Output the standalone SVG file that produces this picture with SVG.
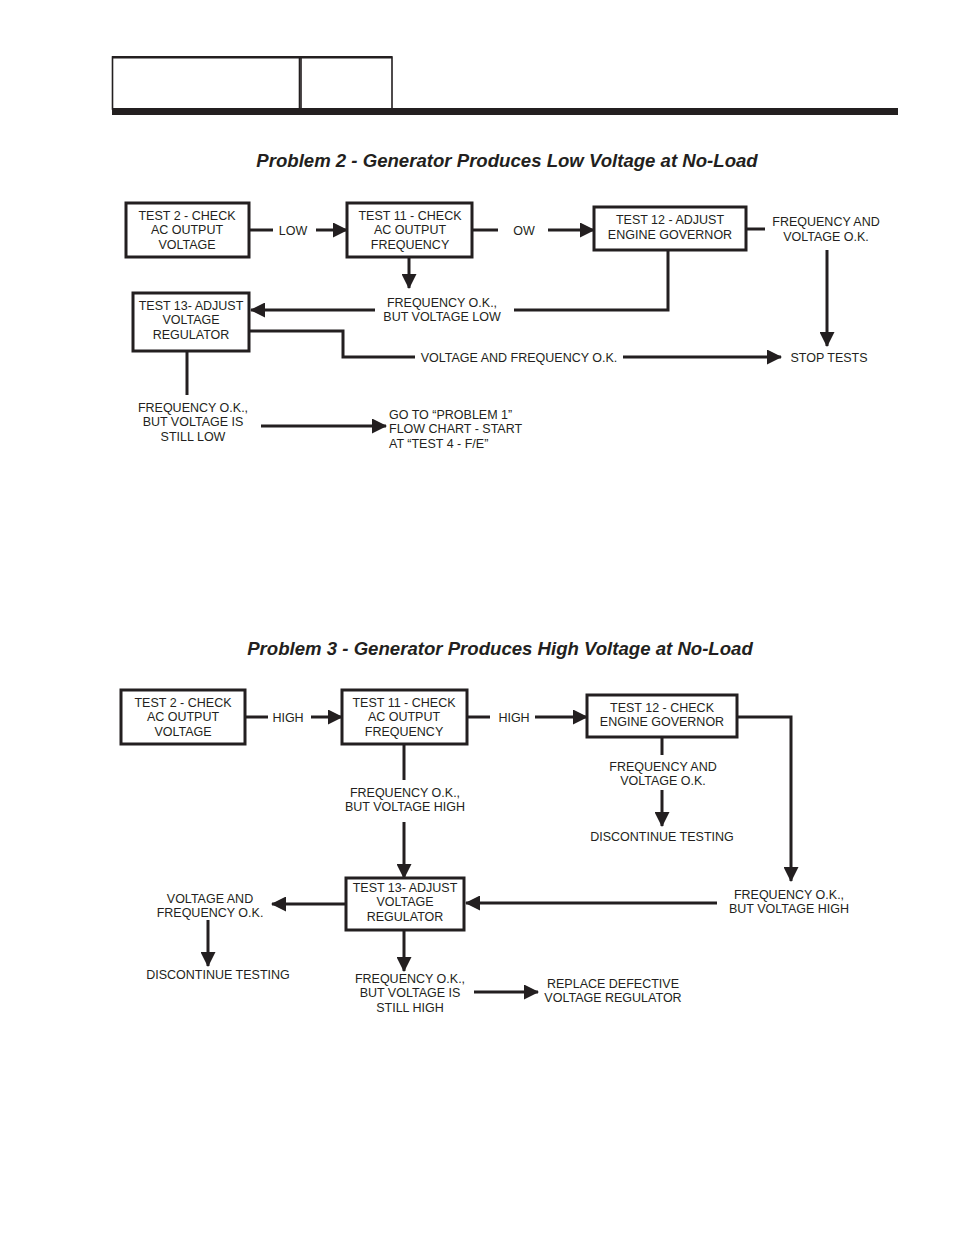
<svg xmlns="http://www.w3.org/2000/svg" width="954" height="1235" viewBox="0 0 954 1235">
<defs>
<style>
.t{font-family:"Liberation Sans",Arial,sans-serif;font-size:12.5px;fill:#231f20;text-anchor:middle}
.l{text-anchor:start}
.h{font-family:"Liberation Sans",Arial,sans-serif;font-size:18.6px;font-weight:bold;font-style:italic;fill:#231f20;text-anchor:middle}
.b{fill:#fff;stroke:#231f20;stroke-width:3}
.c{fill:none;stroke:#231f20;stroke-width:3}
.a{fill:none;stroke:#231f20;stroke-width:3;marker-end:url(#ar)}
</style>
<marker id="ar" markerUnits="userSpaceOnUse" markerWidth="15" markerHeight="15" refX="14" refY="7.5" orient="auto">
<path d="M0,0 L15,7.5 L0,15 z" fill="#231f20"/>
</marker>
</defs>
<rect width="954" height="1235" fill="#fff"/>
<g id="header">
<rect x="112.5" y="57" width="187" height="52" fill="none" stroke="#231f20" stroke-width="1.6"/>
<rect x="301" y="57" width="91" height="52" fill="none" stroke="#231f20" stroke-width="1.6"/>
<rect x="112" y="56" width="280" height="2.5" fill="#231f20"/>
<rect x="112" y="108" width="786" height="7" fill="#231f20"/>
</g>
<text class="h" x="507" y="167">Problem 2 - Generator Produces Low Voltage at No-Load</text>
<text class="h" x="500" y="655">Problem 3 - Generator Produces High Voltage at No-Load</text>

<g id="connectors">
<!-- Problem 2 -->
<line class="c" x1="249" y1="230" x2="273" y2="230"/>
<line class="a" x1="316" y1="230" x2="347" y2="230"/>
<line class="c" x1="472" y1="230" x2="498" y2="230"/>
<line class="a" x1="548" y1="230" x2="594" y2="230"/>
<line class="c" x1="746" y1="229" x2="765" y2="229"/>
<line class="a" x1="827" y1="250" x2="827" y2="346"/>
<line class="a" x1="409" y1="257" x2="409" y2="288"/>
<line class="a" x1="375" y1="310" x2="251" y2="310"/>
<polyline class="c" points="514,310 668,310 668,250"/>
<polyline class="c" points="249,331 343,331 343,357 415,357"/>
<line class="a" x1="623" y1="357" x2="781" y2="357"/>
<line class="c" x1="187" y1="351" x2="187" y2="395"/>
<line class="a" x1="261" y1="426" x2="386" y2="426"/>
<!-- Problem 3 -->
<line class="c" x1="245" y1="717" x2="268" y2="717"/>
<line class="a" x1="311" y1="717" x2="342" y2="717"/>
<line class="c" x1="467" y1="717" x2="490" y2="717"/>
<line class="a" x1="535" y1="717" x2="587" y2="717"/>
<line class="c" x1="662" y1="737" x2="662" y2="755"/>
<line class="a" x1="662" y1="790" x2="662" y2="826"/>
<polyline class="a" points="737,717 791,717 791,881"/>
<line class="a" x1="717" y1="903" x2="466" y2="903"/>
<line class="c" x1="404" y1="744" x2="404" y2="780"/>
<line class="a" x1="404" y1="822" x2="404" y2="878"/>
<line class="a" x1="346" y1="904" x2="272" y2="904"/>
<line class="a" x1="208" y1="920" x2="208" y2="966"/>
<line class="a" x1="404" y1="930" x2="404" y2="971"/>
<line class="a" x1="474" y1="992" x2="538" y2="992"/>
</g>

<!-- Problem 2 nodes -->
<g id="p2-test2">
<rect class="b" x="126" y="203" width="123" height="54"/>
<text class="t" x="187" y="219.5">TEST 2 - CHECK</text>
<text class="t" x="187" y="234">AC OUTPUT</text>
<text class="t" x="187" y="248.5">VOLTAGE</text>
</g>
<g id="p2-low"><text class="t" x="293" y="234.5">LOW</text></g>
<g id="p2-test11">
<rect class="b" x="347" y="203" width="125" height="54"/>
<text class="t" x="410" y="219.5">TEST 11 - CHECK</text>
<text class="t" x="410" y="234">AC OUTPUT</text>
<text class="t" x="410" y="248.5">FREQUENCY</text>
</g>
<g id="p2-ow"><text class="t" x="524" y="234.5">OW</text></g>
<g id="p2-test12">
<rect class="b" x="594" y="207" width="152" height="43"/>
<text class="t" x="670" y="224">TEST 12 - ADJUST</text>
<text class="t" x="670" y="238.5">ENGINE GOVERNOR</text>
</g>
<g id="p2-fvok">
<text class="t" x="826" y="226">FREQUENCY AND</text>
<text class="t" x="826" y="240.5">VOLTAGE O.K.</text>
</g>
<g id="p2-fvlow">
<text class="t" x="442" y="306.5">FREQUENCY O.K.,</text>
<text class="t" x="442" y="321">BUT VOLTAGE LOW</text>
</g>
<g id="p2-test13">
<rect class="b" x="133" y="293" width="116" height="58"/>
<text class="t" x="191" y="309.5">TEST 13- ADJUST</text>
<text class="t" x="191" y="324">VOLTAGE</text>
<text class="t" x="191" y="338.5">REGULATOR</text>
</g>
<g id="p2-vfok"><text class="t" x="519" y="361.5">VOLTAGE AND FREQUENCY O.K.</text></g>
<g id="p2-stop"><text class="t" x="829" y="361.5">STOP TESTS</text></g>
<g id="p2-stilllow">
<text class="t" x="193" y="411.5">FREQUENCY O.K.,</text>
<text class="t" x="193" y="426">BUT VOLTAGE IS</text>
<text class="t" x="193" y="440.5">STILL LOW</text>
</g>
<g id="p2-goto">
<text class="t l" x="389" y="418.5">GO TO “PROBLEM 1”</text>
<text class="t l" x="389" y="433">FLOW CHART - START</text>
<text class="t l" x="389" y="447.5">AT “TEST 4 - F/E”</text>
</g>

<!-- Problem 3 nodes -->
<g id="p3-test2">
<rect class="b" x="121" y="690" width="124" height="54"/>
<text class="t" x="183" y="706.5">TEST 2 - CHECK</text>
<text class="t" x="183" y="721">AC OUTPUT</text>
<text class="t" x="183" y="735.5">VOLTAGE</text>
</g>
<g id="p3-high1"><text class="t" x="288" y="721.5">HIGH</text></g>
<g id="p3-test11">
<rect class="b" x="342" y="690" width="125" height="54"/>
<text class="t" x="404" y="706.5">TEST 11 - CHECK</text>
<text class="t" x="404" y="721">AC OUTPUT</text>
<text class="t" x="404" y="735.5">FREQUENCY</text>
</g>
<g id="p3-high2"><text class="t" x="514" y="721.5">HIGH</text></g>
<g id="p3-test12">
<rect class="b" x="587" y="695" width="150" height="42"/>
<text class="t" x="662" y="711.5">TEST 12 - CHECK</text>
<text class="t" x="662" y="726">ENGINE GOVERNOR</text>
</g>
<g id="p3-fvok">
<text class="t" x="663" y="770.5">FREQUENCY AND</text>
<text class="t" x="663" y="785">VOLTAGE O.K.</text>
</g>
<g id="p3-disc1"><text class="t" x="662" y="840.5">DISCONTINUE TESTING</text></g>
<g id="p3-fvhigh1">
<text class="t" x="405" y="796.5">FREQUENCY O.K.,</text>
<text class="t" x="405" y="811">BUT VOLTAGE HIGH</text>
</g>
<g id="p3-fvhigh2">
<text class="t" x="789" y="898.5">FREQUENCY O.K.,</text>
<text class="t" x="789" y="913">BUT VOLTAGE HIGH</text>
</g>
<g id="p3-test13">
<rect class="b" x="346" y="878" width="118" height="52"/>
<text class="t" x="405" y="891.5">TEST 13- ADJUST</text>
<text class="t" x="405" y="906">VOLTAGE</text>
<text class="t" x="405" y="920.5">REGULATOR</text>
</g>
<g id="p3-vfok">
<text class="t" x="210" y="902.5">VOLTAGE AND</text>
<text class="t" x="210" y="917">FREQUENCY O.K.</text>
</g>
<g id="p3-disc2"><text class="t" x="218" y="978.5">DISCONTINUE TESTING</text></g>
<g id="p3-stillhigh">
<text class="t" x="410" y="982.5">FREQUENCY O.K.,</text>
<text class="t" x="410" y="997">BUT VOLTAGE IS</text>
<text class="t" x="410" y="1011.5">STILL HIGH</text>
</g>
<g id="p3-replace">
<text class="t" x="613" y="987.5">REPLACE DEFECTIVE</text>
<text class="t" x="613" y="1002">VOLTAGE REGULATOR</text>
</g>
</svg>
